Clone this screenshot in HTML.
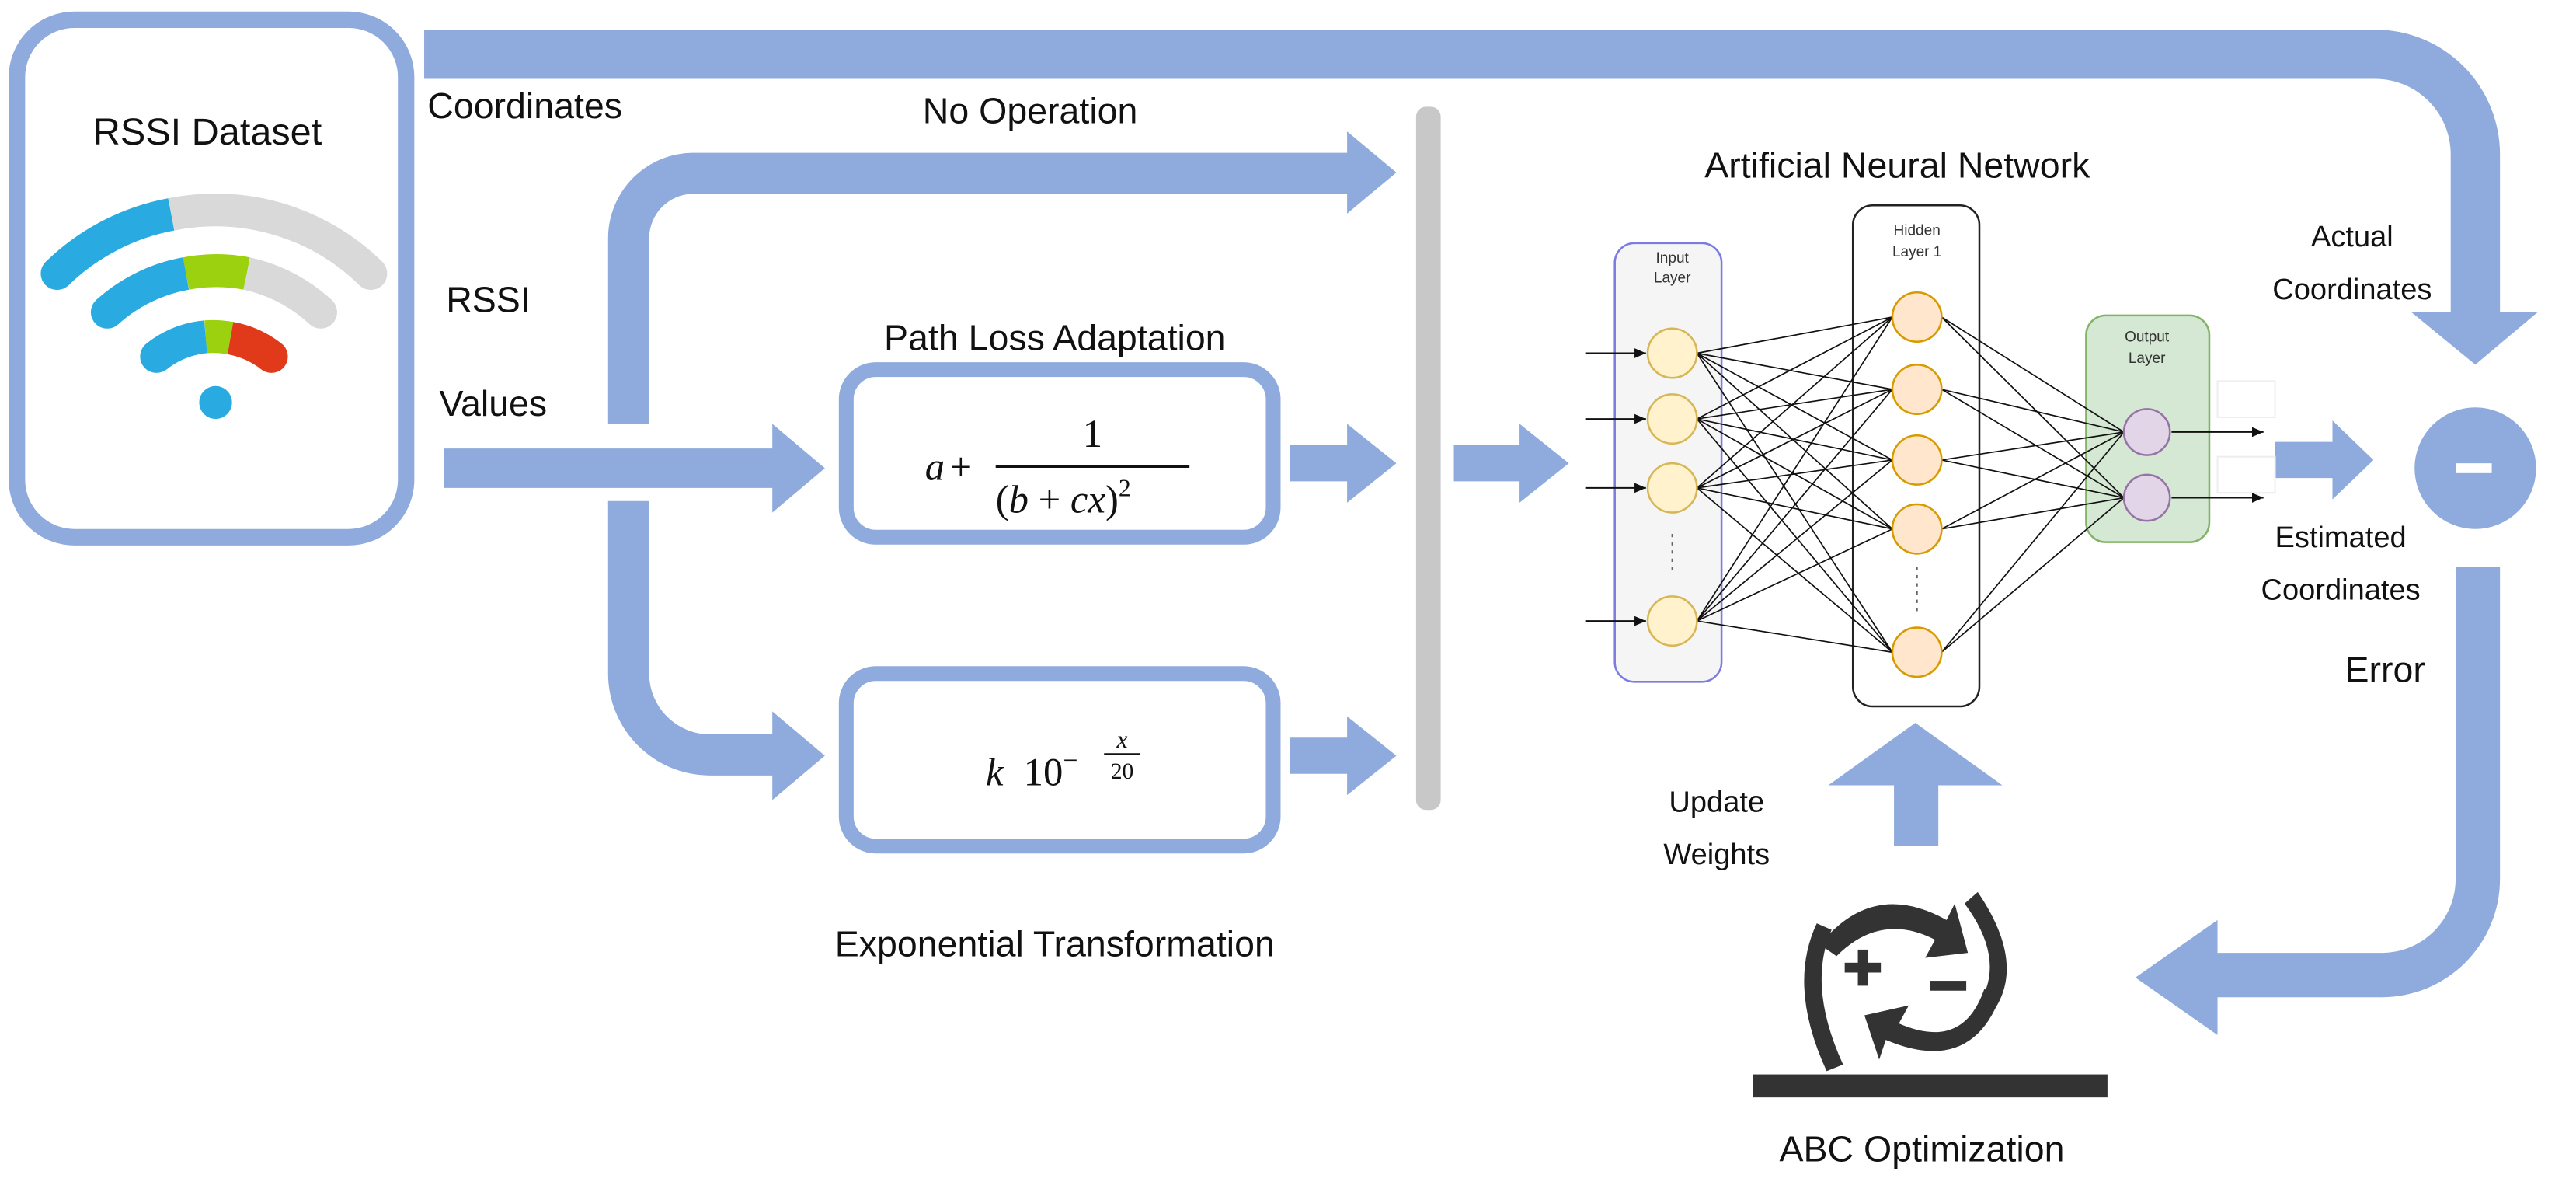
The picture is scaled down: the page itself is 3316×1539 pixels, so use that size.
<!DOCTYPE html>
<html><head><meta charset="utf-8"><style>html,body{margin:0;padding:0;background:#fff;overflow:hidden}svg{display:block}</style></head>
<body>
<svg width="3316" height="1539" viewBox="0 0 1568 728" xmlns="http://www.w3.org/2000/svg" font-family="'Liberation Sans', sans-serif">
<defs>
<marker id="ah" markerWidth="8" markerHeight="8" refX="7" refY="3" orient="auto" markerUnits="userSpaceOnUse"><path d="M0,0 L7,3 L0,6 z" fill="#111"/></marker>
</defs>
<g fill="#8FAADC" stroke="none">
<!-- top band -->
<path d="M258,18 H1446 A76,76 0 0 1 1522,94 V190 H1545 L1507,222 L1468,190 H1492 V94 A46,46 0 0 0 1446,48 H258 Z"/>
<!-- no-op branch -->
<path d="M370,258 V145 A52,52 0 0 1 422,93 H820 V80 L850,105 L820,130 V118 H422 A27,27 0 0 0 395,145 V258 Z"/>
<!-- main horizontal -->
<path d="M270,273 H470 V258 L502,285 L470,312 V297 H270 Z"/>
<!-- lower branch -->
<path d="M370,305 H395 V410 A37,37 0 0 0 432,447 H470 V433 L502,460 L470,487 V472 H432 A62,62 0 0 1 370,410 Z"/>
<!-- small arrows -->
<path d="M785,271 H820 V258 L850,282 L820,306 V293 H785 Z"/>
<path d="M785,449 H820 V436 L850,460 L820,484 V471 H785 Z"/>
<path d="M885,271 H925 V258 L955,282 L925,306 V293 H885 Z"/>
<path d="M1385,269 H1420 V256 L1445,280 L1420,304 V291 H1385 Z"/>
<!-- minus circle -->
<circle cx="1507" cy="285" r="37"/>
<!-- error band -->
<path d="M1495,345 H1522 V535 A72,72 0 0 1 1450,607 H1350 V630 L1300,595 L1350,560 V580 H1450 A45,45 0 0 0 1495,535 Z"/>
<!-- update arrow -->
<path d="M1153,515 V478 H1113 L1166,440 L1219,478 H1180 V515 Z"/>
</g>
<rect x="1495" y="282" width="22" height="6" fill="#fff"/>
<!-- gray bar -->
<rect x="862" y="65" width="15" height="428" rx="6" fill="#C8C8C8"/>
<!-- RSSI box -->
<rect x="10" y="12" width="237" height="315" rx="35" fill="#fff" stroke="#8FAADC" stroke-width="10"/>
<text x="126" y="88" font-size="23" text-anchor="middle" fill="#111">RSSI Dataset</text>
<!-- wifi -->
<g fill="none" stroke-width="20" stroke-linecap="butt">
<path d="M34.5,166.5 A135,135 0 0 1 104,130.5" stroke="#29ABE2"/>
<path d="M104,130.5 A135,135 0 0 1 225.5,166.5" stroke="#D9D9D9"/>
<path d="M65,190 A97,97 0 0 1 113,166.5" stroke="#29ABE2"/>
<path d="M113,166.5 A97,97 0 0 1 150,166.5" stroke="#9BD10F"/>
<path d="M150,166.5 A97,97 0 0 1 195,190" stroke="#D9D9D9"/>
<path d="M95,217 A57,57 0 0 1 125,205" stroke="#29ABE2"/>
<path d="M125,205 A57,57 0 0 1 140,205.8" stroke="#9BD10F"/>
<path d="M140,205.8 A57,57 0 0 1 165,217" stroke="#E03A1A"/>
</g>
<g stroke-linecap="round" fill="none" stroke-width="20">
<path d="M34.5,166.5 L34.6,166.4" stroke="#29ABE2"/>
<path d="M225.5,166.5 L225.4,166.4" stroke="#D9D9D9"/>
<path d="M65,190 L65.1,189.9" stroke="#29ABE2"/>
<path d="M195,190 L194.9,189.9" stroke="#D9D9D9"/>
<path d="M95,217 L95.1,216.9" stroke="#29ABE2"/>
<path d="M165,217 L164.9,216.9" stroke="#E03A1A"/>
</g>
<circle cx="131" cy="245" r="10" fill="#29ABE2"/>
<!-- labels -->
<g font-size="22" fill="#111">
<text x="260" y="72">Coordinates</text>
<text x="627" y="75" text-anchor="middle">No Operation</text>
<text x="297" y="190" text-anchor="middle">RSSI</text>
<text x="300" y="253" text-anchor="middle">Values</text>
<text x="642" y="213" text-anchor="middle">Path Loss Adaptation</text>
<text x="642" y="582" text-anchor="middle">Exponential Transformation</text>
<text x="1155" y="108" text-anchor="middle">Artificial Neural Network</text>
<text x="1452" y="415" text-anchor="middle">Error</text>
<text x="1170" y="707" text-anchor="middle">ABC Optimization</text>
</g>
<g font-size="18" fill="#111" text-anchor="middle">
<text x="1432" y="150">Actual</text>
<text x="1432" y="182">Coordinates</text>
<text x="1425" y="333">Estimated</text>
<text x="1425" y="365">Coordinates</text>
<text x="1045" y="494">Update</text>
<text x="1045" y="526">Weights</text>
</g>
<!-- formula boxes -->
<rect x="515" y="225" width="260" height="102" rx="18" fill="#fff" stroke="#8FAADC" stroke-width="9"/>
<rect x="515" y="410" width="260" height="105" rx="18" fill="#fff" stroke="#8FAADC" stroke-width="9"/>
<g font-family="'Liberation Serif', serif" fill="#111" font-size="24">
<text x="563" y="292" font-style="italic">a</text>
<text x="578" y="292">+</text>
<line x1="606" y1="284" x2="724" y2="284" stroke="#111" stroke-width="1.5"/>
<text x="665" y="272" text-anchor="middle">1</text>
<text x="606" y="312">(<tspan font-style="italic">b</tspan> + <tspan font-style="italic">cx</tspan>)<tspan font-size="15" dy="-10">2</tspan></text>
<text x="600" y="478" font-style="italic">k</text>
<text x="623" y="478">10<tspan font-size="16" dy="-10">−</tspan></text>
<text x="683" y="455" font-size="15" font-style="italic" text-anchor="middle">x</text>
<line x1="672" y1="459" x2="694" y2="459" stroke="#111" stroke-width="1"/>
<text x="683" y="474" font-size="14" text-anchor="middle">20</text>
</g>
<!-- ANN -->
<rect x="983" y="148" width="65" height="267" rx="12" fill="#F5F5F5" stroke="#7B7BE0" stroke-width="1.2"/>
<rect x="1128" y="125" width="77" height="305" rx="12" fill="#fff" stroke="#222" stroke-width="1.2"/>
<rect x="1270" y="192" width="75" height="138" rx="12" fill="#D5E8D4" stroke="#82B366" stroke-width="1.2"/>
<rect x="1350" y="232" width="35" height="22" fill="#fff" stroke="#eee"/>
<rect x="1350" y="278" width="35" height="22" fill="#fff" stroke="#eee"/>
<g font-size="9" fill="#333" text-anchor="middle">
<text x="1018" y="160">Input</text><text x="1018" y="172">Layer</text>
<text x="1167" y="143">Hidden</text><text x="1167" y="156">Layer 1</text>
<text x="1307" y="208">Output</text><text x="1307" y="221">Layer</text>
</g>
<g stroke="#111" stroke-width="0.9" marker-end="url(#ah)">
<line x1="965" y1="215" x2="1002" y2="215"/><line x1="965" y1="255" x2="1002" y2="255"/>
<line x1="965" y1="297" x2="1002" y2="297"/><line x1="965" y1="378" x2="1002" y2="378"/>
<line x1="1322" y1="263" x2="1378" y2="263"/><line x1="1322" y1="303" x2="1378" y2="303"/>
</g>
<g stroke="#111" stroke-width="0.8">
<path d="M1033,215 L1152,193 M1033,215 L1152,237 M1033,215 L1152,280 M1033,215 L1152,322 M1033,215 L1152,397
M1033,255 L1152,193 M1033,255 L1152,237 M1033,255 L1152,280 M1033,255 L1152,322 M1033,255 L1152,397
M1033,297 L1152,193 M1033,297 L1152,237 M1033,297 L1152,280 M1033,297 L1152,322 M1033,297 L1152,397
M1033,378 L1152,193 M1033,378 L1152,237 M1033,378 L1152,280 M1033,378 L1152,322 M1033,378 L1152,397
M1182,193 L1293,263 M1182,193 L1293,303 M1182,237 L1293,263 M1182,237 L1293,303 M1182,280 L1293,263 M1182,280 L1293,303
M1182,322 L1293,263 M1182,322 L1293,303 M1182,397 L1293,263 M1182,397 L1293,303"/>
</g>
<g fill="#FFF2CC" stroke="#D6B656" stroke-width="1.2">
<circle cx="1018" cy="215" r="15"/><circle cx="1018" cy="255" r="15"/><circle cx="1018" cy="297" r="15"/><circle cx="1018" cy="378" r="15"/>
</g>
<g fill="#FFE6CC" stroke="#D79B00" stroke-width="1.2">
<circle cx="1167" cy="193" r="15"/><circle cx="1167" cy="237" r="15"/><circle cx="1167" cy="280" r="15"/><circle cx="1167" cy="322" r="15"/><circle cx="1167" cy="397" r="15"/>
</g>
<g fill="#E1D5E7" stroke="#9673A6" stroke-width="1.2">
<circle cx="1307" cy="263" r="14"/><circle cx="1307" cy="303" r="14"/>
</g>
<line x1="1018" y1="325" x2="1018" y2="350" stroke="#666" stroke-dasharray="2,3"/>
<line x1="1167" y1="345" x2="1167" y2="372" stroke="#666" stroke-dasharray="2,3"/>
<!-- ABC icon -->
<g fill="#333">
<path d="M1115,566 Q1100,600 1122,648 L1112,652 Q1088,600 1106,562 Z"/>
<path d="M1204,543 Q1236,590 1210,620 L1204,612 Q1222,585 1196,550 Z"/>
<path d="M1108,575 Q1140,535 1185,560 L1190,550 L1198,580 L1172,583 L1178,572 Q1145,555 1118,582 Z"/>
<path d="M1218,606 Q1200,655 1148,633 L1144,645 L1135,618 L1162,612 L1156,623 Q1195,640 1208,602 Z"/>
<rect x="1131" y="578" width="6" height="22"/><rect x="1123" y="586" width="22" height="6"/>
<rect x="1175" y="597" width="22" height="6"/>
<rect x="1067" y="654" width="216" height="14"/>
</g>
</svg>
</body></html>
